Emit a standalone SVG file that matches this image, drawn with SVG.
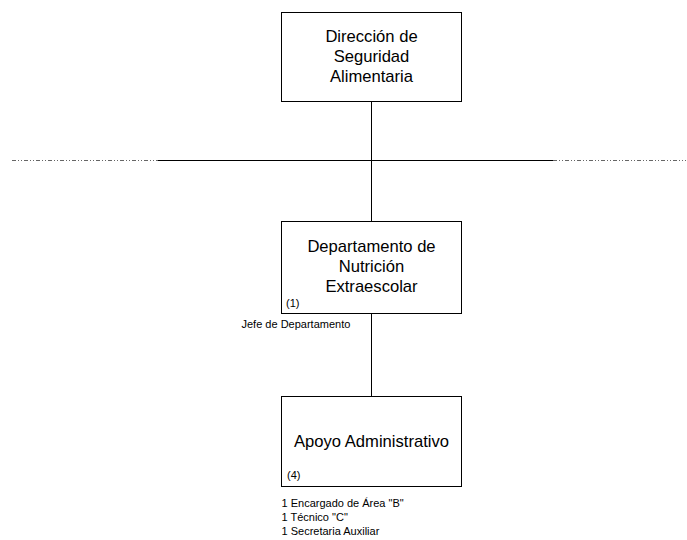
<svg xmlns="http://www.w3.org/2000/svg" width="687" height="540" viewBox="0 0 687 540">
<style>
.box{fill:#fff;stroke:#000;stroke-width:1}
.t{font-family:"Liberation Sans",Arial,sans-serif;font-size:16.6px;fill:#000;text-anchor:middle}
.s{font-family:"Liberation Sans",Arial,sans-serif;font-size:11px;fill:#000}
.ln{stroke:#000;stroke-width:1;fill:none}
.dd{stroke:#666;stroke-width:1;stroke-dasharray:4,2,1,2,1,2;fill:none}
</style>
<rect width="687" height="540" fill="#fff"/>
<g id="connectors">
<line class="dd" x1="12" y1="160.5" x2="158" y2="160.5"/>
<line class="ln" x1="158" y1="160.5" x2="553" y2="160.5"/>
<line class="dd" x1="553" y1="160.5" x2="686" y2="160.5"/>
<line class="ln" x1="371.5" y1="101" x2="371.5" y2="221"/>
<line class="ln" x1="371.5" y1="313" x2="371.5" y2="396"/>
</g>
<g id="direccion">
<rect class="box" x="281.5" y="12.5" width="180" height="89"/>
<text class="t" x="371.5" y="41.7">Dirección de</text>
<text class="t" x="371.5" y="61.7">Seguridad</text>
<text class="t" x="371.5" y="81.7">Alimentaria</text>
</g>
<g id="departamento">
<rect class="box" x="281.5" y="221.5" width="180" height="92"/>
<text class="t" x="371.5" y="252">Departamento de</text>
<text class="t" x="371.5" y="272">Nutrición</text>
<text class="t" x="371.5" y="292">Extraescolar</text>
<text class="s" x="286" y="306.5">(1)</text>
<text class="s" x="241.5" y="328">Jefe de Departamento</text>
</g>
<g id="apoyo">
<rect class="box" x="281.5" y="396.5" width="180" height="90"/>
<text class="t" x="371.5" y="447">Apoyo Administrativo</text>
<text class="s" x="287" y="479">(4)</text>
<text class="s" x="281.5" y="506.5">1 Encargado de Área "B"</text>
<text class="s" x="281.5" y="520.5">1 Técnico "C"</text>
<text class="s" x="281.5" y="534.5">1 Secretaria Auxiliar</text>
</g>
</svg>
